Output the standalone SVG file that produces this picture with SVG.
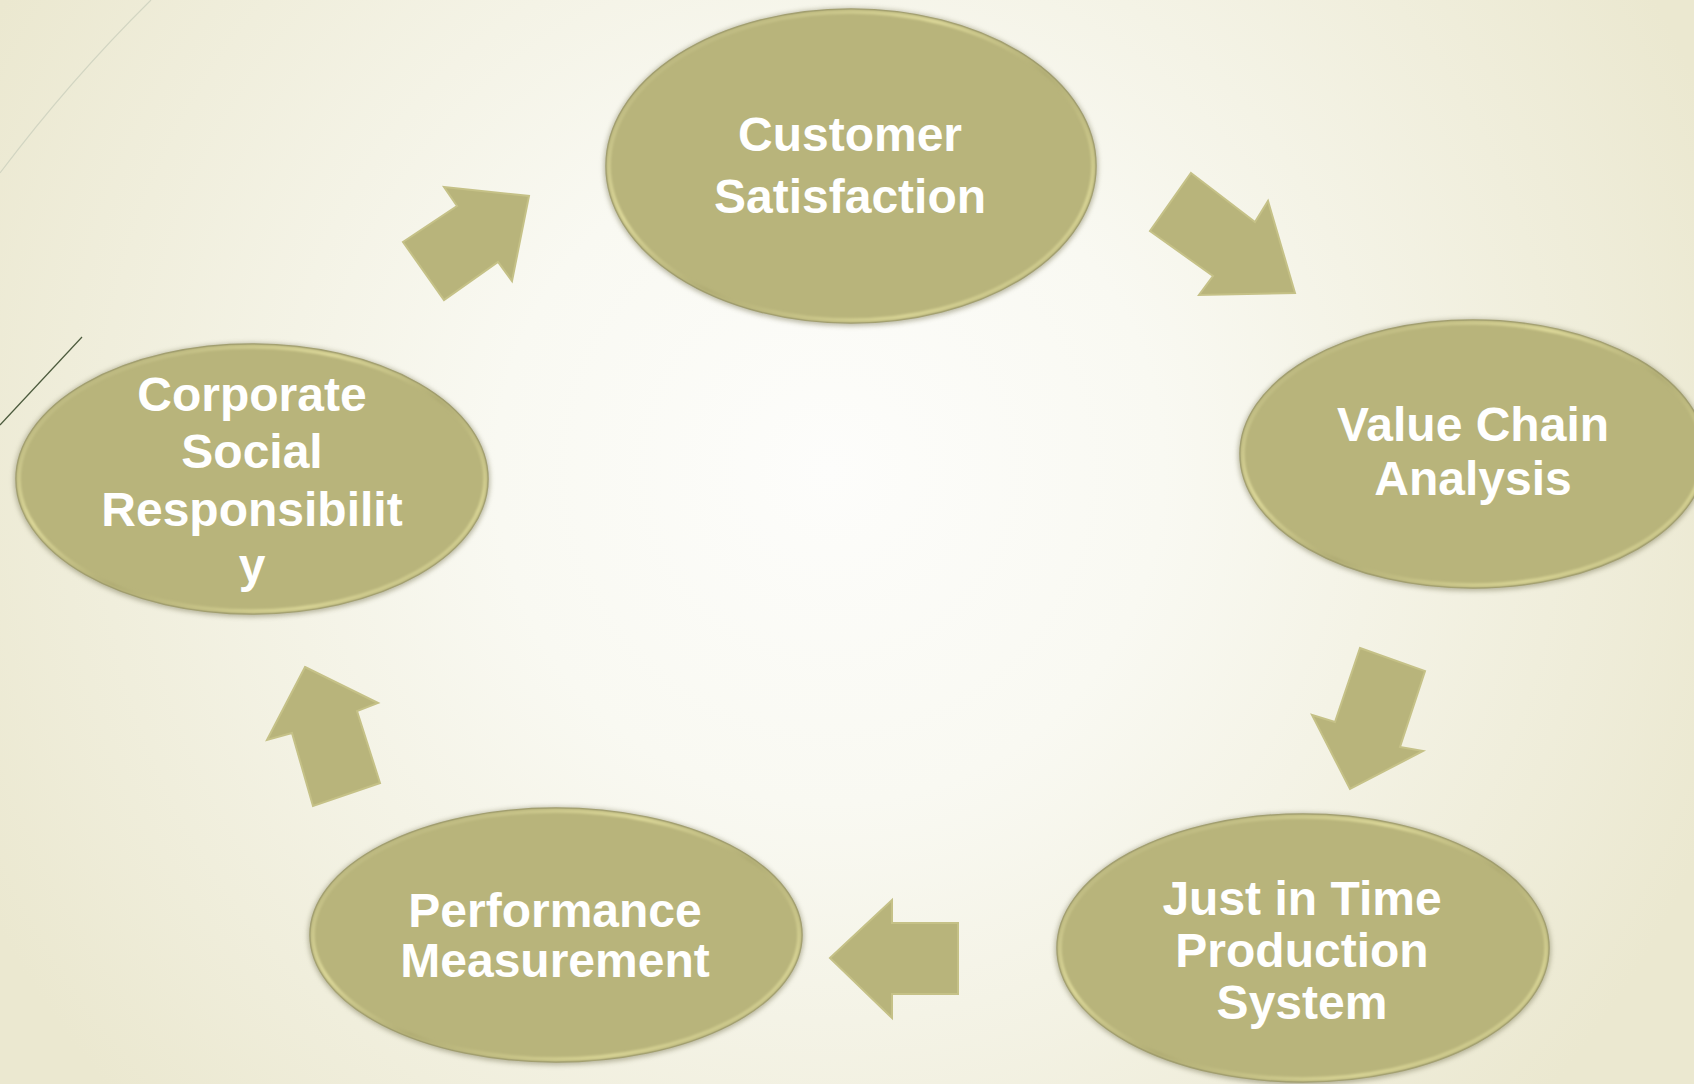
<svg xmlns="http://www.w3.org/2000/svg" width="1694" height="1084" viewBox="0 0 1694 1084">
<defs>
<radialGradient id="bg" cx="830" cy="470" r="950" gradientUnits="userSpaceOnUse">
<stop offset="0" stop-color="#fdfdfb"/>
<stop offset="0.35" stop-color="#f9f9f2"/>
<stop offset="1" stop-color="#ebe8d0"/>
</radialGradient>
<linearGradient id="rim" x1="0" y1="0" x2="1" y2="1">
<stop offset="0" stop-color="#a9a571"/>
<stop offset="0.35" stop-color="#dcd899"/>
<stop offset="0.55" stop-color="#b1ad75"/>
<stop offset="0.8" stop-color="#d8d495"/>
<stop offset="1" stop-color="#b3af77"/>
</linearGradient>
<filter id="soft" x="-10%" y="-10%" width="120%" height="120%">
<feGaussianBlur stdDeviation="2.5"/>
</filter>
<filter id="edge" x="-10%" y="-10%" width="120%" height="120%">
<feGaussianBlur stdDeviation="0.8"/>
</filter>
</defs>
<style>
.shadow{fill:#8c8a6c;opacity:0.6}
.node{fill:#b8b47b;stroke:#9d9a6c;stroke-width:1.5}
.rim{fill:none;stroke:url(#rim);stroke-width:3.5}
.arrow{fill:#b8b47b;stroke:#c5c187;stroke-width:2;stroke-linejoin:miter}
.lbl{font-family:"Liberation Sans",Arial,sans-serif;font-weight:bold;font-size:48px;fill:#ffffff;text-anchor:middle}
</style>
<rect x="0" y="0" width="1694" height="1084" fill="url(#bg)"/>
<path d="M151,0 Q70,80 0,173" fill="none" stroke="#d2d5c2" stroke-width="1.2"/>
<path d="M82,337 L0,425" fill="none" stroke="#4b5a3c" stroke-width="1.2"/>

<g id="node-customer-satisfaction">
<ellipse class="shadow" cx="851" cy="167" rx="247" ry="159" filter="url(#soft)"/>
<ellipse class="node" cx="851" cy="166" rx="245" ry="157"/>
<ellipse class="rim" cx="851" cy="166" rx="242" ry="154" filter="url(#edge)"/>
<text class="lbl" x="850" y="151">Customer</text>
<text class="lbl" x="850" y="213">Satisfaction</text>
</g>

<g id="node-value-chain-analysis">
<ellipse class="shadow" cx="1473" cy="455" rx="235" ry="136" filter="url(#soft)"/>
<ellipse class="node" cx="1473" cy="454" rx="233" ry="134"/>
<ellipse class="rim" cx="1473" cy="454" rx="230" ry="131" filter="url(#edge)"/>
<text class="lbl" x="1473" y="441">Value Chain</text>
<text class="lbl" x="1473" y="495">Analysis</text>
</g>

<g id="node-just-in-time">
<ellipse class="shadow" cx="1303" cy="949" rx="248" ry="136" filter="url(#soft)"/>
<ellipse class="node" cx="1303" cy="948" rx="246" ry="134"/>
<ellipse class="rim" cx="1303" cy="948" rx="243" ry="131" filter="url(#edge)"/>
<text class="lbl" x="1302" y="915">Just in Time</text>
<text class="lbl" x="1302" y="967">Production</text>
<text class="lbl" x="1302" y="1019">System</text>
</g>

<g id="node-performance-measurement">
<ellipse class="shadow" cx="556" cy="936" rx="248" ry="129" filter="url(#soft)"/>
<ellipse class="node" cx="556" cy="935" rx="246" ry="127"/>
<ellipse class="rim" cx="556" cy="935" rx="243" ry="124" filter="url(#edge)"/>
<text class="lbl" x="555" y="927">Performance</text>
<text class="lbl" x="555" y="977">Measurement</text>
</g>

<g id="node-corporate-social-responsibility">
<ellipse class="shadow" cx="252" cy="480" rx="238" ry="137" filter="url(#soft)"/>
<ellipse class="node" cx="252" cy="479" rx="236" ry="135"/>
<ellipse class="rim" cx="252" cy="479" rx="233" ry="132" filter="url(#edge)"/>
<text class="lbl" x="252" y="411">Corporate</text>
<text class="lbl" x="252" y="468">Social</text>
<text class="lbl" x="252" y="526">Responsibilit</text>
<text class="lbl" x="252" y="582">y</text>
</g>

<g id="connectors">
<polygon class="arrow" points="444,187 529,196 512,281 498,262 444,300 403,242 457,206"/>
<polygon class="arrow" points="1191,173 1255,222 1268,201 1295,293 1199,295 1213,276 1150,231"/>
<polygon class="arrow" points="1360,648 1425,671 1400,747 1423,751 1350,789 1312,715 1335,722"/>
<polygon class="arrow" points="830,958 892,900 892,923 958,923 958,994 892,994 892,1018"/>
<polygon class="arrow" points="305,667 378,703 357,711 380,783 313,806 292,733 267,740"/>
</g>
</svg>
